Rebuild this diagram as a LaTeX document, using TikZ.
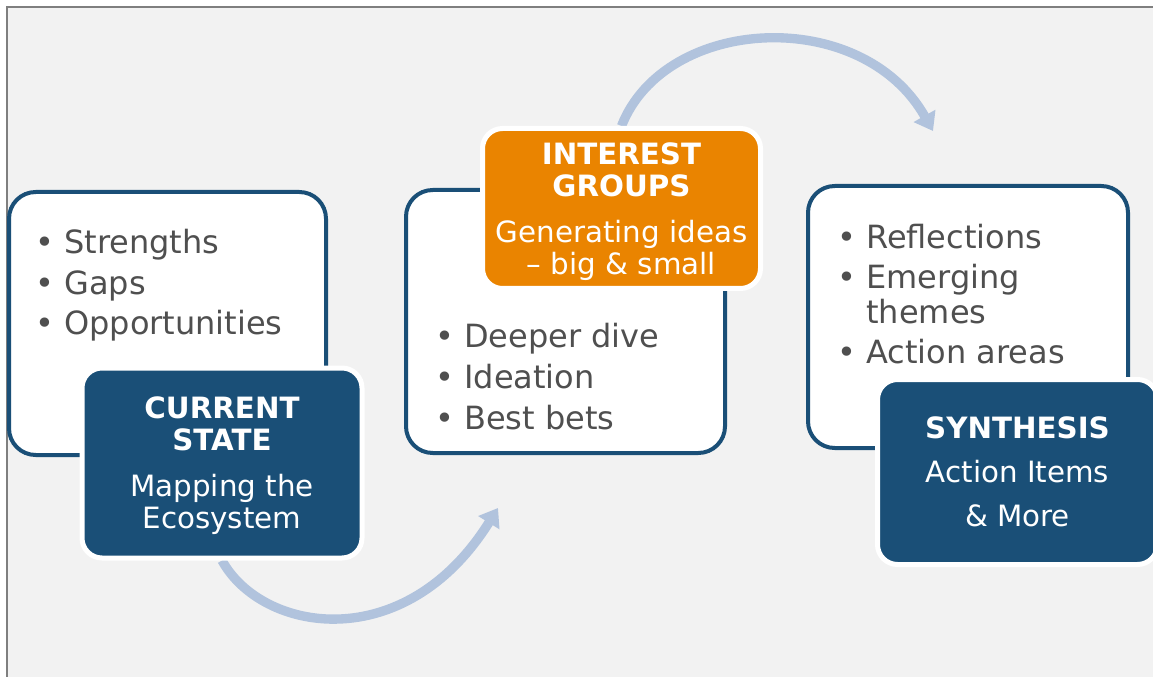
\documentclass[tikz,border=0pt]{standalone}
\usepackage{fontspec}
\setmainfont{DejaVu Sans}
\usetikzlibrary{arrows.meta}

\definecolor{bggray}{HTML}{F2F2F2}
\definecolor{framegray}{HTML}{7F7F7F}
\definecolor{navy}{HTML}{1A4F77}
\definecolor{amber}{HTML}{EA8400}
\definecolor{flowblue}{HTML}{B1C3DD}
\definecolor{bullettext}{HTML}{4F4F4F}

\pgfdeclarelayer{behind}
\pgfsetlayers{behind,main}

\begin{document}
\begin{tikzpicture}[x=0.75pt, y=-0.75pt,
    stagebox/.style={draw=navy, fill=white, line width=3pt, rounded corners=20pt, inner sep=0pt},
    stagelabel/.style={draw=white, line width=3.75pt, rounded corners=15pt, inner sep=0pt,
        text=white, align=center, text depth=0pt, font=\fontsize{22}{24}\selectfont},
    bulletline/.style={anchor=west, inner sep=0pt, text height=17.5pt, text depth=0pt,
        text=bullettext, font=\fontsize{24}{28}\selectfont},
    flowarrow/.style={draw=flowblue, line width=7pt, -{Triangle[length=13pt, width=18pt]}}]

        % Page size and the grey panel with its frame
        \useasboundingbox (0,0) rectangle (1153,677);
        \clip (0,0) rectangle (1153,677);
        \begin{pgfonlayer}{behind}
            \fill[bggray] (7,7) rectangle (1153,677);
        \end{pgfonlayer}
        \draw[framegray, line width=1.5pt] (7,677) -- (7,7) -- (1153,7);

        % The three white boxes
        \node[stagebox, minimum width=237.75pt, minimum height=197.25pt] (box1) at (167.5,323.5) {};
        \node[stagebox, minimum width=239.25pt, minimum height=197.25pt] (box2) at (565.5,321.5) {};
        \node[stagebox, minimum width=240pt, minimum height=196.5pt] (box3) at (968,317) {};

        % Bullet points of the first box
        \node[bulletline] (strengths) at (35,242) {• Strengths};
        \node[bulletline] (gaps) at (35,283) {• Gaps};
        \node[bulletline] (opportunities) at (35,323) {• Opportunities};

        % Bullet points of the second box
        \node[bulletline] (deeper) at (435,336) {• Deeper dive};
        \node[bulletline] (ideation) at (435,377) {• Ideation};
        \node[bulletline] (bestbets) at (435,418) {• Best bets};

        % Bullet points of the third box
        \node[bulletline] (reflections) at (837,237) {• Reflections};
        \node[bulletline] (emerging) at (837,277) {• Emerging};
        \node[bulletline] (themes) at (837,312) {\phantom{• }themes};
        \node[bulletline] (actionareas) at (837,352) {• Action areas};

        % The stage labels on top of the boxes
        \node[stagelabel, fill=navy, minimum width=210pt, minimum height=142.5pt] (current) at (222,463)
            {\textbf{CURRENT}\\ \textbf{STATE}\\[10.5pt] Mapping the\\ Ecosystem};
        \node[stagelabel, fill=amber, minimum width=208.5pt, minimum height=120pt] (interest) at (621.5,208.5)
            {\textbf{INTEREST}\\ \textbf{GROUPS}\\[10pt] Generating ideas\\ – big \& small};
        \node[stagelabel, fill=navy, minimum width=210pt, minimum height=138.75pt] (synthesis) at (1017.5,472)
            {\textbf{SYNTHESIS}\\[9pt] Action Items\\[9pt] \& More};

        % Curved arrows between the stages, passing under the labels
        \coordinate (tip1) at (498,508);
        \coordinate (tip2) at (933,131);
        \begin{pgfonlayer}{behind}
            \draw[flowarrow] (current.south) .. controls (262,633) and (405,657) .. (tip1);
            \draw[flowarrow] (interest.north) .. controls (665,15) and (862,5) .. (tip2);
        \end{pgfonlayer}

\end{tikzpicture}
\end{document}
